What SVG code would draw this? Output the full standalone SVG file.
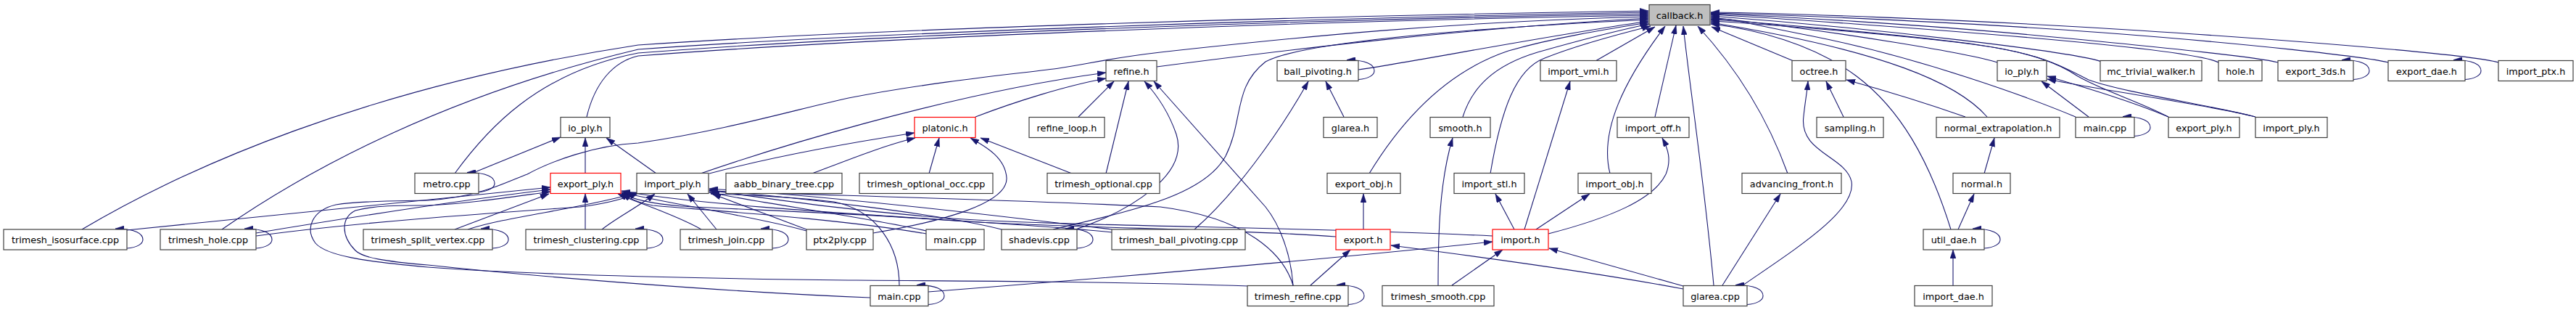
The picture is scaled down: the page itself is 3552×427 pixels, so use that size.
<svg xmlns="http://www.w3.org/2000/svg" width="3552" height="427" viewBox="0 0 3552 427">
<style>
.node rect{fill:#fff;stroke:#404040;stroke-width:1.2}
.node.red rect{stroke:#ff0000}
.node.cb rect{fill:#bfbfbf}
.node text{font-family:"DejaVu Sans",sans-serif;font-size:12.8px;text-anchor:middle;fill:#000}
.e path{fill:none;stroke:#191970;stroke-width:1.1;marker-end:url(#ah)}
</style>
<defs>
<marker id="ah" markerWidth="12" markerHeight="8" refX="12" refY="4" orient="auto" markerUnits="userSpaceOnUse"><path d="M0,0 L12,4 L0,8 z" fill="#191970" stroke="#191970" stroke-width="0.5"/></marker>
</defs>
<g id="edges" class="e">
<path d="M113,316 C250,235 500,120 880,62 C1200,40 1800,22 2273,15"/>
<path d="M306,316 C430,230 620,130 880,68 C1200,45 1800,25 2273,17"/>
<path d="M627,239 C670,180 740,100 880,73 C1200,48 1800,27 2273,19"/>
<path d="M809,161 C820,115 845,85 880,77 C1200,52 1800,29 2273,21"/>
<path d="M1722,394 C1550,388 1350,387 1170,386 C1000,384 750,380 590,368 C500,360 450,352 435,335 C420,315 430,290 463,282 C500,276 550,277 590,276 C660,272 700,250 727,240 C760,222 820,200 880,197 C1000,180 1100,150 1170,135 C1300,110 1420,100 1460,94 C1500,88 1530,80 1600,72 C1800,50 2000,30 2273,23"/>
<path d="M1595,92 C1750,72 2000,40 2273,25"/>
<path d="M1452,316 C1560,290 1660,270 1690,215 C1715,165 1700,120 1745,85 C1790,60 2000,40 2273,27"/>
<path d="M1873,96 C1950,85 2100,55 2273,29"/>
<path d="M1888,239 C1930,170 1990,100 2080,70 C2150,50 2230,38 2273,31"/>
<path d="M2017,161 C2030,120 2060,90 2120,72 C2180,55 2240,40 2274,33"/>
<path d="M2055,239 C2070,150 2090,95 2130,80 C2180,60 2240,45 2276,36"/>
<path d="M2200,84 L2282,37"/>
<path d="M2220,239 C2205,180 2240,110 2296,36"/>
<path d="M2282,161 L2311,35"/>
<path d="M2363,393 C2350,250 2330,120 2321,36"/>
<path d="M2465,239 C2440,170 2400,100 2341,36"/>
<path d="M2473,84 L2360,37"/>
<path d="M2754,86 C2720,75 2550,45 2359,24"/>
<path d="M2898,85 C2860,72 2600,40 2359,22"/>
<path d="M3059,86 C3040,76 2950,65 2800,52 S2450,25 2359,20"/>
<path d="M3141,86 C3110,78 2950,62 2800,48 S2450,22 2359,19"/>
<path d="M3293,86 C3260,78 3100,60 2900,45 S2450,20 2359,18"/>
<path d="M3445,86 C3410,76 3200,58 2950,42 S2450,18 2359,17"/>
<path d="M2862,161 C2800,135 2650,80 2500,50 S2400,28 2359,26"/>
<path d="M2990,161 C2950,140 2900,125 2865,105 C2840,88 2800,70 2700,58 S2420,30 2359,27"/>
<path d="M3110,161 C3050,145 2930,128 2880,110 C2850,95 2820,74 2720,61 S2420,32 2359,29"/>
<path d="M2740,161 C2700,115 2600,70 2359,31"/>
<path d="M2690,316 C2660,220 2620,150 2560,105 C2500,60 2420,40 2359,33"/>
<path d="M650,239 L773,189"/>
<path d="M807,239 L807,190"/>
<path d="M905,239 L836,190"/>
<path d="M1345,161 C1400,140 1470,118 1525,108"/>
<path d="M966,239 C1050,210 1300,130 1525,100"/>
<path d="M978,239 C1050,220 1150,200 1261,183"/>
<path d="M1120,239 C1170,220 1220,200 1262,190"/>
<path d="M1281,239 L1295,190"/>
<path d="M1204,321 C1300,305 1390,280 1388,245 C1386,215 1355,200 1338,190"/>
<path d="M1478,239 L1352,190"/>
<path d="M1487,161 L1536,112"/>
<path d="M1525,239 L1556,112"/>
<path d="M1483,316 C1560,290 1640,240 1622,185 C1610,150 1590,125 1578,112"/>
<path d="M1783,393 C1780,350 1765,310 1745,285 L1591,112"/>
<path d="M1647,316 C1700,270 1760,190 1804,112"/>
<path d="M1853,161 L1828,112"/>
<path d="M1807,393 L1862,344"/>
<path d="M1880,316 L1880,267"/>
<path d="M2321,398 C2200,375 2050,355 1918,338"/>
<path d="M1983,393 C1983,320 1985,250 2003,190"/>
<path d="M2002,393 L2072,344"/>
<path d="M1280,402 C1500,385 1800,360 2058,333"/>
<path d="M2321,394 L2136,342"/>
<path d="M2102,316 L2165,112"/>
<path d="M2088,316 L2062,267"/>
<path d="M2118,316 L2192,267"/>
<path d="M2135,322 C2220,300 2280,275 2297,240 C2305,220 2300,205 2292,190"/>
<path d="M2058,325 C1800,312 1450,312 1300,300 C1150,288 1050,272 978,262"/>
<path d="M2375,393 L2455,267"/>
<path d="M2403,393 C2480,340 2560,290 2553,250 C2545,215 2480,210 2487,160 C2489,140 2492,125 2493,112"/>
<path d="M2542,161 L2518,112"/>
<path d="M2710,161 C2650,140 2600,125 2546,110"/>
<path d="M2736,239 L2750,190"/>
<path d="M2700,316 L2722,267"/>
<path d="M2693,393 L2693,344"/>
<path d="M2880,161 L2815,112"/>
<path d="M2990,161 C2940,140 2880,122 2823,105"/>
<path d="M3110,161 C3050,145 2900,125 2823,109"/>
<path d="M175,317 C300,303 550,280 759,258"/>
<path d="M353,321 C480,300 640,275 759,261"/>
<path d="M353,325 C500,305 700,292 800,285 C840,280 865,272 880,266"/>
<path d="M1200,410 C1000,402 750,382 590,365 C530,360 500,355 490,345 C470,325 470,300 490,290 C520,282 560,283 590,283 C650,280 700,272 759,264"/>
<path d="M627,316 L757,267"/>
<path d="M645,316 C700,298 800,288 880,265"/>
<path d="M807,316 L807,267"/>
<path d="M830,316 C850,300 880,285 903,267"/>
<path d="M988,316 L948,267"/>
<path d="M967,316 C930,295 880,280 852,267"/>
<path d="M1112,316 L982,267"/>
<path d="M1112,318 C1050,300 930,282 857,265"/>
<path d="M1277,318 C1200,300 1050,280 978,265"/>
<path d="M1277,322 C1150,300 950,288 900,283 C880,280 866,272 857,267"/>
<path d="M1381,316 C1300,295 1100,272 978,262"/>
<path d="M1533,316 C1400,300 1150,270 978,260"/>
<path d="M1533,320 C1400,305 1000,290 857,263"/>
<path d="M1842,326 C1700,315 1450,314 1300,303 C1150,292 1000,288 940,284 C900,281 870,274 857,266"/>
<path d="M1783,393 C1770,350 1720,300 1600,285 C1400,275 1100,268 978,263"/>
<path d="M1240,393 C1240,340 1210,290 1150,278 C1080,270 1020,268 980,267"/>
<path d="M175,342 C189,341 197,336 197,330 C197,322 187,315 159,315"/>
<path d="M353,342 C367,341 375,336 375,330 C375,322 365,315 337,315"/>
<path d="M679,342 C693,341 701,336 701,330 C701,322 691,315 663,315"/>
<path d="M892,342 C906,341 914,336 914,330 C914,322 904,315 876,315"/>
<path d="M1065,342 C1079,341 1087,336 1087,330 C1087,322 1077,315 1049,315"/>
<path d="M1485,342 C1499,341 1507,336 1507,330 C1507,322 1497,315 1469,315"/>
<path d="M2736,342 C2750,341 2758,336 2758,330 C2758,322 2748,315 2720,315"/>
<path d="M660,264.5 C674,263.5 682,258.5 682,252.5 C682,244.5 672,237.5 644,237.5"/>
<path d="M1873,109.5 C1887,108.5 1895,103.5 1895,97.5 C1895,89.5 1885,82.5 1857,82.5"/>
<path d="M3245,109.5 C3259,108.5 3267,103.5 3267,97.5 C3267,89.5 3257,82.5 3229,82.5"/>
<path d="M3399,109.5 C3413,108.5 3421,103.5 3421,97.5 C3421,89.5 3411,82.5 3383,82.5"/>
<path d="M2943,187.5 C2957,186.5 2965,181.5 2965,175.5 C2965,167.5 2955,160.5 2927,160.5"/>
<path d="M1280,419.5 C1294,418.5 1302,413.5 1302,407.5 C1302,399.5 1292,392.5 1264,392.5"/>
<path d="M1859,419.5 C1873,418.5 1881,413.5 1881,407.5 C1881,399.5 1871,392.5 1843,392.5"/>
<path d="M2409,419.5 C2423,418.5 2431,413.5 2431,407.5 C2431,399.5 2421,392.5 2393,392.5"/>
</g>
<g id="n_callback" class="node cb"><rect x="2274" y="6.5" width="84" height="28"/><text x="2316" y="25.7">callback.h</text></g>
<g id="n_refine_h" class="node"><rect x="1525" y="83.5" width="70" height="28"/><text x="1560" y="102.7">refine.h</text></g>
<g id="n_ball_pivoting_h" class="node"><rect x="1761" y="83.5" width="112" height="28"/><text x="1817" y="102.7">ball_pivoting.h</text></g>
<g id="n_import_vmi_h" class="node"><rect x="2124" y="83.5" width="105" height="28"/><text x="2176.5" y="102.7">import_vmi.h</text></g>
<g id="n_octree_h" class="node"><rect x="2471" y="83.5" width="74" height="28"/><text x="2508" y="102.7">octree.h</text></g>
<g id="n_io_ply_h_r" class="node"><rect x="2754" y="83.5" width="68" height="28"/><text x="2788" y="102.7">io_ply.h</text></g>
<g id="n_mc_trivial_walker_h" class="node"><rect x="2896" y="83.5" width="140" height="28"/><text x="2966" y="102.7">mc_trivial_walker.h</text></g>
<g id="n_hole_h" class="node"><rect x="3059" y="83.5" width="60" height="28"/><text x="3089" y="102.7">hole.h</text></g>
<g id="n_export_3ds_h" class="node"><rect x="3141" y="83.5" width="104" height="28"/><text x="3193" y="102.7">export_3ds.h</text></g>
<g id="n_export_dae_h" class="node"><rect x="3293" y="83.5" width="106" height="28"/><text x="3346" y="102.7">export_dae.h</text></g>
<g id="n_import_ptx_h" class="node"><rect x="3445" y="83.5" width="103" height="28"/><text x="3496.5" y="102.7">import_ptx.h</text></g>
<g id="n_io_ply_h_l" class="node"><rect x="773" y="161.5" width="68" height="28"/><text x="807" y="180.7">io_ply.h</text></g>
<g id="n_platonic_h" class="node red"><rect x="1261" y="161.5" width="84" height="28"/><text x="1303" y="180.7">platonic.h</text></g>
<g id="n_refine_loop_h" class="node"><rect x="1419" y="161.5" width="104" height="28"/><text x="1471" y="180.7">refine_loop.h</text></g>
<g id="n_glarea_h" class="node"><rect x="1825" y="161.5" width="74" height="28"/><text x="1862" y="180.7">glarea.h</text></g>
<g id="n_smooth_h" class="node"><rect x="1972" y="161.5" width="83" height="28"/><text x="2013.5" y="180.7">smooth.h</text></g>
<g id="n_import_off_h" class="node"><rect x="2230" y="161.5" width="99" height="28"/><text x="2279.5" y="180.7">import_off.h</text></g>
<g id="n_sampling_h" class="node"><rect x="2505" y="161.5" width="92" height="28"/><text x="2551" y="180.7">sampling.h</text></g>
<g id="n_normal_extrapolation_h" class="node"><rect x="2670" y="161.5" width="170" height="28"/><text x="2755" y="180.7">normal_extrapolation.h</text></g>
<g id="n_main_cpp_r" class="node"><rect x="2862" y="161.5" width="81" height="28"/><text x="2902.5" y="180.7">main.cpp</text></g>
<g id="n_export_ply_h_r" class="node"><rect x="2990" y="161.5" width="98" height="28"/><text x="3039" y="180.7">export_ply.h</text></g>
<g id="n_import_ply_h_r" class="node"><rect x="3110" y="161.5" width="99" height="28"/><text x="3159.5" y="180.7">import_ply.h</text></g>
<g id="n_metro_cpp" class="node"><rect x="572" y="238.5" width="88" height="28"/><text x="616" y="257.7">metro.cpp</text></g>
<g id="n_export_ply_h_l" class="node red"><rect x="759" y="238.5" width="97" height="28"/><text x="807.5" y="257.7">export_ply.h</text></g>
<g id="n_import_ply_h_l" class="node"><rect x="878" y="238.5" width="99" height="28"/><text x="927.5" y="257.7">import_ply.h</text></g>
<g id="n_aabb_binary_tree_cpp" class="node"><rect x="1001" y="238.5" width="160" height="28"/><text x="1081" y="257.7">aabb_binary_tree.cpp</text></g>
<g id="n_trimesh_optional_occ_cpp" class="node"><rect x="1185" y="238.5" width="184" height="28"/><text x="1277" y="257.7">trimesh_optional_occ.cpp</text></g>
<g id="n_trimesh_optional_cpp" class="node"><rect x="1444" y="238.5" width="155" height="28"/><text x="1521.5" y="257.7">trimesh_optional.cpp</text></g>
<g id="n_export_obj_h" class="node"><rect x="1830" y="238.5" width="101" height="28"/><text x="1880.5" y="257.7">export_obj.h</text></g>
<g id="n_import_stl_h" class="node"><rect x="2005" y="238.5" width="97" height="28"/><text x="2053.5" y="257.7">import_stl.h</text></g>
<g id="n_import_obj_h" class="node"><rect x="2176" y="238.5" width="101" height="28"/><text x="2226.5" y="257.7">import_obj.h</text></g>
<g id="n_advancing_front_h" class="node"><rect x="2402" y="238.5" width="137" height="28"/><text x="2470.5" y="257.7">advancing_front.h</text></g>
<g id="n_normal_h" class="node"><rect x="2693" y="238.5" width="79" height="28"/><text x="2732.5" y="257.7">normal.h</text></g>
<g id="n_trimesh_isosurface_cpp" class="node"><rect x="5" y="316" width="170" height="28"/><text x="90" y="335.2">trimesh_isosurface.cpp</text></g>
<g id="n_trimesh_hole_cpp" class="node"><rect x="221" y="316" width="132" height="28"/><text x="287" y="335.2">trimesh_hole.cpp</text></g>
<g id="n_trimesh_split_vertex_cpp" class="node"><rect x="501" y="316" width="178" height="28"/><text x="590" y="335.2">trimesh_split_vertex.cpp</text></g>
<g id="n_trimesh_clustering_cpp" class="node"><rect x="725" y="316" width="167" height="28"/><text x="808.5" y="335.2">trimesh_clustering.cpp</text></g>
<g id="n_trimesh_join_cpp" class="node"><rect x="938" y="316" width="127" height="28"/><text x="1001.5" y="335.2">trimesh_join.cpp</text></g>
<g id="n_ptx2ply_cpp" class="node"><rect x="1112" y="316" width="92" height="28"/><text x="1158" y="335.2">ptx2ply.cpp</text></g>
<g id="n_main_cpp_5" class="node"><rect x="1277" y="316" width="80" height="28"/><text x="1317" y="335.2">main.cpp</text></g>
<g id="n_shadevis_cpp" class="node"><rect x="1381" y="316" width="104" height="28"/><text x="1433" y="335.2">shadevis.cpp</text></g>
<g id="n_trimesh_ball_pivoting_cpp" class="node"><rect x="1533" y="316" width="184" height="28"/><text x="1625" y="335.2">trimesh_ball_pivoting.cpp</text></g>
<g id="n_export_h" class="node red"><rect x="1842" y="316" width="75" height="28"/><text x="1879.5" y="335.2">export.h</text></g>
<g id="n_import_h" class="node red"><rect x="2058" y="316" width="77" height="28"/><text x="2096.5" y="335.2">import.h</text></g>
<g id="n_util_dae_h" class="node"><rect x="2652" y="316" width="84" height="28"/><text x="2694" y="335.2">util_dae.h</text></g>
<g id="n_main_cpp_6" class="node"><rect x="1200" y="393.5" width="80" height="28"/><text x="1240" y="412.7">main.cpp</text></g>
<g id="n_trimesh_refine_cpp" class="node"><rect x="1720" y="393.5" width="139" height="28"/><text x="1789.5" y="412.7">trimesh_refine.cpp</text></g>
<g id="n_trimesh_smooth_cpp" class="node"><rect x="1906" y="393.5" width="154" height="28"/><text x="1983" y="412.7">trimesh_smooth.cpp</text></g>
<g id="n_glarea_cpp" class="node"><rect x="2321" y="393.5" width="88" height="28"/><text x="2365" y="412.7">glarea.cpp</text></g>
<g id="n_import_dae_h" class="node"><rect x="2640" y="393.5" width="107" height="28"/><text x="2693.5" y="412.7">import_dae.h</text></g>
</svg>
